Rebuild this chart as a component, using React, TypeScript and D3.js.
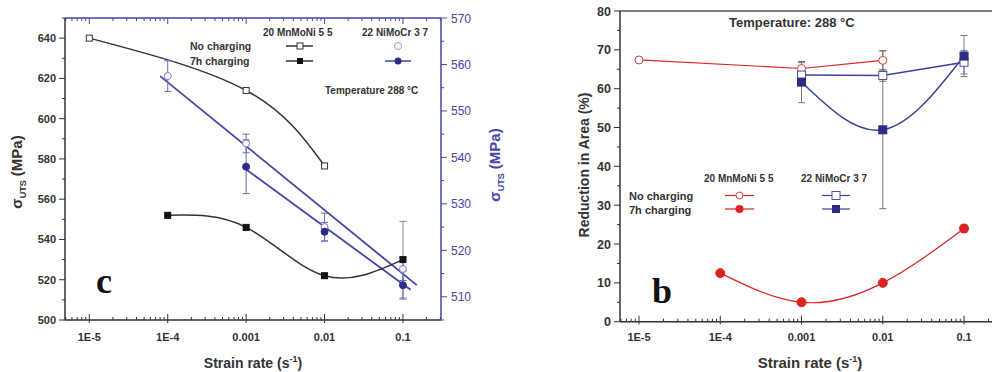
import * as d3 from 'd3'

// ---- panel c : UTS vs strain rate ----
const decadeRates = [1e-5, 1e-4, 1e-3, 1e-2, 1e-1]
const decadeLabels = ['1E-5', '1E-4', '0.001', '0.01', '0.1']

const mnNoRate = [1e-5, 1e-3, 1e-2]
const mnNoUts = [640, 614, 576.5]
const mn7hRate = [1e-4, 1e-3, 1e-2, 1e-1]
const mn7hUts = [552, 546, 522, 530]
const mn7hErr = [0, 0, 0, 19]

const niNoRate = [1e-4, 1e-3, 1e-2, 1e-1]
const niNoUts = [557.5, 543, 525, 516]
const niNoErr = [3.3, 2, 3, 2.5]
const ni7hRate = [1e-3, 1e-2, 1e-1]
const ni7hUts = [538, 524, 512.5]
const ni7hErr = [5.8, 2, 3]

// linear fits drawn in the original
const niNoFitRate = [8e-5, 0.15]
const niNoFitUts = [557.5, 512.5]
const ni7hFitRate = [9e-4, 0.125]
const ni7hFitUts = [538, 511.5]

const utsLeftTicks = [500, 520, 540, 560, 580, 600, 620, 640]
const utsRightTicks = [510, 520, 530, 540, 550, 560, 570]

// ---- panel b : reduction in area ----
const raMnNoRate = [1e-5, 1e-3, 1e-2]
const raMnNo = [67.4, 65.2, 67.3]
const raMnNoErr = [0, 1.5, 2.5]
const raMn7hRate = [1e-4, 1e-3, 1e-2, 1e-1]
const raMn7h = [12.5, 5, 10, 24]
const raMn7hErr = [0, 0, 0, 1]
const raNiNoRate = [1e-3, 1e-2, 1e-1]
const raNiNo = [63.5, 63.4, 66.8]
const raNiNoErr = [1.5, 1.5, 3]
const raNi7hRate = [1e-3, 1e-2, 1e-1]
const raNi7h = [61.7, 49.4, 68.4]
const raNi7hErr = [5.3, 20.3, 5.3]
const raTicks = [0, 10, 20, 30, 40, 50, 60, 70, 80]

const FONT = "'Liberation Sans', Arial, sans-serif"
const BLACK = '#333'
const BLUE = '#4646a6'
const NAVY = '#2c2c86'
const RED = '#dd2222'

function minorLog(domain: number[]) {
  const out: number[] = []
  for (let e = -7; e <= 1; e++) {
    for (let m = 1; m <= 9; m++) {
      const v = m * Math.pow(10, e)
      if (v >= domain[0] && v <= domain[1]) out.push(v)
    }
  }
  return out
}

const zip = (xs: number[], ys: number[]) => xs.map((x, i) => [x, ys[i]] as [number, number])

export default function App() {
  // panel c scales
  const xc = d3.scaleLog().domain([Math.pow(10, -5.31), Math.pow(10, -0.515)]).range([65, 441])
  const yL = d3.scaleLinear().domain([500, 650]).range([320, 18])
  const yR = d3.scaleLinear().domain([505, 570]).range([320, 18])
  // panel b scales
  const xb = d3.scaleLog().domain([Math.pow(10, -5.234), Math.pow(10, -0.619)]).range([620, 995])
  const yb = d3.scaleLinear().domain([0, 80]).range([321.7, 11])

  const curve = (xs: any, ys: any, data: [number, number][], c: any) =>
    d3.line<[number, number]>().x((d) => xs(d[0])).y((d) => ys(d[1])).curve(c)(data) || ''

  const errBars = (xs: any, ys: any, rate: number[], val: number[], err: number[], color: string) =>
    rate.map((r, i) =>
      err[i] > 0 ? (
        <g key={'e' + i} stroke={color} strokeWidth={1} fill="none">
          <line x1={xs(r)} x2={xs(r)} y1={ys(val[i] - err[i])} y2={ys(val[i] + err[i])} />
          <line x1={xs(r) - 3.5} x2={xs(r) + 3.5} y1={ys(val[i] - err[i])} y2={ys(val[i] - err[i])} />
          <line x1={xs(r) - 3.5} x2={xs(r) + 3.5} y1={ys(val[i] + err[i])} y2={ys(val[i] + err[i])} />
        </g>
      ) : null
    )

  const squares = (xs: any, ys: any, rate: number[], val: number[], s: number, fill: string, stroke: string) =>
    rate.map((r, i) => (
      <rect key={'s' + i} x={xs(r) - s / 2} y={ys(val[i]) - s / 2} width={s} height={s}
        fill={fill} stroke={stroke} strokeWidth={1} />
    ))

  const circles = (xs: any, ys: any, rate: number[], val: number[], rad: number, fill: string, stroke: string) =>
    rate.map((r, i) => (
      <circle key={'c' + i} cx={xs(r)} cy={ys(val[i])} r={rad} fill={fill} stroke={stroke} strokeWidth={1} />
    ))

  const cMinor = minorLog(xc.domain())
  const bMinor = minorLog(xb.domain())

  return (
    <div style={{ position: 'absolute', left: 0, top: 0 }}>
      <svg width={992} height={372} style={{ display: 'block', background: '#fff' }} fontFamily={FONT}>
        {/* ================= panel c ================= */}
        <g>
          {/* bottom axis */}
          <line x1={65} x2={441} y1={320} y2={320} stroke={BLACK} strokeWidth={1.5} />
          {cMinor.map((v, i) => {
            const major = decadeRates.includes(v) || Math.abs(Math.log10(v) % 1) < 1e-9
            return (
              <line key={'cb' + i} x1={xc(v)} x2={xc(v)} y1={major ? 323 : 320} y2={major ? 314 : 317}
                stroke={BLACK} strokeWidth={1} />
            )
          })}
          {decadeRates.map((v, i) => (
            <text key={'cbl' + i} x={xc(v)} y={341} textAnchor="middle" fontSize={11} fontWeight="bold" fill={BLACK}>
              {decadeLabels[i]}
            </text>
          ))}
          {/* top axis */}
          <line x1={65} x2={441} y1={18} y2={18} stroke={BLUE} strokeWidth={1.5} />
          {cMinor.map((v, i) => {
            const major = Math.abs(Math.log10(v) - Math.round(Math.log10(v))) < 1e-9
            return (
              <line key={'ct' + i} x1={xc(v)} x2={xc(v)} y1={18} y2={major ? 24 : 21} stroke={BLUE} strokeWidth={1} />
            )
          })}
          {/* left axis */}
          <line x1={65} x2={65} y1={18} y2={320} stroke={BLACK} strokeWidth={1.5} />
          {d3.range(500, 651, 10).map((v) => (
            <line key={'cl' + v} x1={v % 20 === 0 ? 59 : 62} x2={65} y1={yL(v)} y2={yL(v)} stroke={BLACK} strokeWidth={1} />
          ))}
          {utsLeftTicks.map((v) => (
            <text key={'cll' + v} x={56} y={yL(v) + 4} textAnchor="end" fontSize={11} fontWeight="bold" fill={BLACK}>
              {v}
            </text>
          ))}
          {/* right axis */}
          <line x1={441} x2={441} y1={18} y2={320} stroke={BLUE} strokeWidth={1.5} />
          {d3.range(505, 571, 5).map((v) => (
            <line key={'cr' + v} x1={441} x2={v % 10 === 0 ? 447 : 444} y1={yR(v)} y2={yR(v)} stroke={BLUE} strokeWidth={1} />
          ))}
          {utsRightTicks.map((v) => (
            <text key={'crl' + v} x={451} y={yR(v) + 4.5} fontSize={12} fill={BLUE}>
              {v}
            </text>
          ))}
          {/* axis titles */}
          <text transform="translate(22,172) rotate(-90)" textAnchor="middle" fontSize={15} fontWeight="bold" fill={BLACK}>
            σ<tspan fontSize={9} dy={4}>UTS</tspan><tspan dy={-4}> (MPa)</tspan>
          </text>
          <text transform="translate(500,165) rotate(-90)" textAnchor="middle" fontSize={15} fontWeight="bold" fill={BLUE}>
            σ<tspan fontSize={9} dy={4}>UTS</tspan><tspan dy={-4}> (MPa)</tspan>
          </text>
          <text x={253} y={368} textAnchor="middle" fontSize={14} fontWeight="bold" fill={BLACK}>
            Strain rate (s<tspan fontSize={9} dy={-6}>-1</tspan><tspan dy={6}>)</tspan>
          </text>

          {/* fit lines */}
          <path d={curve(xc, yR, zip(niNoFitRate, niNoFitUts), d3.curveLinear)} fill="none" stroke={BLUE} strokeWidth={1.8} />
          <path d={curve(xc, yR, zip(ni7hFitRate, ni7hFitUts), d3.curveLinear)} fill="none" stroke={BLUE} strokeWidth={1.8} />
          {/* MnMoNi curves */}
          <path d={curve(xc, yL, zip(mnNoRate, mnNoUts), d3.curveNatural)} fill="none" stroke={BLACK} strokeWidth={1.5} />
          <path d={curve(xc, yL, zip(mn7hRate, mn7hUts), d3.curveNatural)} fill="none" stroke={BLACK} strokeWidth={1.5} />

          {errBars(xc, yL, mn7hRate, mn7hUts, mn7hErr, '#888')}
          {errBars(xc, yR, niNoRate, niNoUts, niNoErr, '#6a6ab8')}
          {errBars(xc, yR, ni7hRate, ni7hUts, ni7hErr, '#6a6ab8')}

          {squares(xc, yL, mnNoRate, mnNoUts, 6, '#fff', BLACK)}
          {squares(xc, yL, mn7hRate, mn7hUts, 6, '#111', '#111')}
          {circles(xc, yR, niNoRate, niNoUts, 3.5, '#fff', '#7a7ac0')}
          {circles(xc, yR, ni7hRate, ni7hUts, 3.5, NAVY, NAVY)}

          {/* legend */}
          <text x={263} y={36} fontSize={10} fontWeight="bold" fill={BLACK}>20 MnMoNi 5 5</text>
          <text x={362} y={36} fontSize={10} fontWeight="bold" fill={BLACK}>22 NiMoCr 3 7</text>
          <text x={190} y={50} fontSize={10.5} fontWeight="bold" fill={BLACK}>No charging</text>
          <text x={190} y={65} fontSize={10.5} fontWeight="bold" fill={BLACK}>7h charging</text>
          <line x1={286} x2={313} y1={46} y2={46} stroke={BLACK} strokeWidth={1.5} />
          <rect x={297} y={43} width={6} height={6} fill="#fff" stroke={BLACK} />
          <line x1={286} x2={313} y1={61} y2={61} stroke={BLACK} strokeWidth={1.5} />
          <rect x={297} y={58} width={6} height={6} fill="#111" />
          <circle cx={398} cy={46} r={3.5} fill="#fff" stroke="#9a9ac8" />
          <line x1={385} x2={411} y1={61} y2={61} stroke={BLUE} strokeWidth={1.5} />
          <circle cx={398} cy={61} r={3.5} fill={NAVY} />
          <text x={325} y={94} fontSize={10} fontWeight="bold" fill={BLACK}>Temperature 288 °C</text>
          <text x={96} y={293} fontSize={36} fontWeight="bold" fontFamily="'Liberation Serif', 'Times New Roman', serif" fill="#111">c</text>
        </g>

        {/* ================= panel b ================= */}
        <g>
          <line x1={620} x2={992} y1={11} y2={11} stroke="#555" strokeWidth={1.5} />
          <line x1={620} x2={992} y1={321.7} y2={321.7} stroke={BLACK} strokeWidth={1.5} />
          {bMinor.map((v, i) => {
            const major = Math.abs(Math.log10(v) - Math.round(Math.log10(v))) < 1e-9
            return (
              <line key={'bb' + i} x1={xb(v)} x2={xb(v)} y1={major ? 324.5 : 321.7} y2={major ? 315.7 : 318.7}
                stroke={BLACK} strokeWidth={1} />
            )
          })}
          {decadeRates.map((v, i) => (
            <text key={'bbl' + i} x={xb(v)} y={341} textAnchor="middle" fontSize={11} fontWeight="bold" fill={BLACK}>
              {decadeLabels[i]}
            </text>
          ))}
          <line x1={620} x2={620} y1={11} y2={321.7} stroke={BLACK} strokeWidth={1.5} />
          {d3.range(0, 81, 5).map((v) => (
            <line key={'bl' + v} x1={v % 10 === 0 ? 614 : 617} x2={620} y1={yb(v)} y2={yb(v)} stroke={BLACK} strokeWidth={1} />
          ))}
          {raTicks.map((v) => (
            <text key={'bll' + v} x={611} y={yb(v) + 4.5} textAnchor="end" fontSize={12.5} fontWeight="bold" fill={BLACK}>
              {v}
            </text>
          ))}
          <text transform="translate(589,165) rotate(-90)" textAnchor="middle" fontSize={14} fontWeight="bold" fill={BLACK}>
            Reduction in Area  (%)
          </text>
          <text x={810} y={368} textAnchor="middle" fontSize={15} fontWeight="bold" fill={BLACK}>
            Strain rate (s<tspan fontSize={9} dy={-6}>-1</tspan><tspan dy={6}>)</tspan>
          </text>

          {/* lines */}
          <path d={curve(xb, yb, zip(raMnNoRate, raMnNo), d3.curveLinear)} fill="none" stroke={RED} strokeWidth={1.2} />
          <path d={curve(xb, yb, zip(raMn7hRate, raMn7h), d3.curveNatural)} fill="none" stroke={RED} strokeWidth={1.2} />
          <path d={curve(xb, yb, zip(raNiNoRate, raNiNo), d3.curveLinear)} fill="none" stroke="#40409a" strokeWidth={1.5} />
          <path d={curve(xb, yb, zip(raNi7hRate, raNi7h), d3.curveNatural)} fill="none" stroke="#40409a" strokeWidth={1.5} />

          {errBars(xb, yb, raNi7hRate, raNi7h, raNi7hErr, '#777')}
          {errBars(xb, yb, raNiNoRate, raNiNo, raNiNoErr, '#777')}
          {errBars(xb, yb, raMnNoRate, raMnNo, raMnNoErr, '#777')}
          {errBars(xb, yb, raMn7hRate, raMn7h, raMn7hErr, '#e66')}

          {circles(xb, yb, raMnNoRate, raMnNo, 4, '#fff', '#d04040')}
          {circles(xb, yb, raMn7hRate, raMn7h, 4.5, RED, RED)}
          {squares(xb, yb, raNiNoRate, raNiNo, 8, '#fff', '#5050a0')}
          {squares(xb, yb, raNi7hRate, raNi7h, 8, NAVY, NAVY)}

          {/* legend */}
          <text x={729} y={27} fontSize={13} fontWeight="bold" fill={BLACK}>Temperature: 288 °C</text>
          <text x={704} y={182} fontSize={10} fontWeight="bold" fill={BLACK}>20 MnMoNi 5 5</text>
          <text x={801} y={182} fontSize={10} fontWeight="bold" fill={BLACK}>22 NiMoCr 3 7</text>
          <text x={629} y={200} fontSize={11} fontWeight="bold" fill={BLACK}>No charging</text>
          <text x={629} y={213.5} fontSize={11} fontWeight="bold" fill={BLACK}>7h charging</text>
          <line x1={725} x2={754} y1={195.5} y2={195.5} stroke={RED} strokeWidth={1.2} />
          <circle cx={739.5} cy={195.5} r={3.5} fill="#fff" stroke="#d04040" />
          <line x1={725} x2={754} y1={209} y2={209} stroke={RED} strokeWidth={1.2} />
          <circle cx={739.5} cy={209} r={4} fill={RED} />
          <line x1={822} x2={850} y1={195.5} y2={195.5} stroke="#40409a" strokeWidth={1.2} />
          <rect x={832} y={191.5} width={8} height={8} fill="#fff" stroke="#5050a0" />
          <line x1={822} x2={850} y1={209} y2={209} stroke="#40409a" strokeWidth={1.2} />
          <rect x={832} y={205} width={8} height={8} fill={NAVY} />
          <text x={652} y={303} fontSize={36} fontWeight="bold" fontFamily="'Liberation Serif', 'Times New Roman', serif" fill="#111">b</text>
        </g>
      </svg>
    </div>
  )
}
